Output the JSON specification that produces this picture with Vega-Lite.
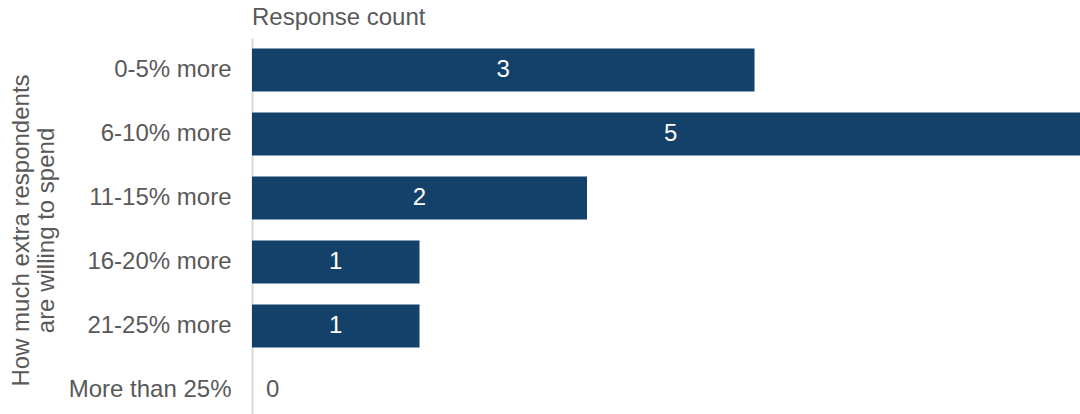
{
  "$schema": "https://vega.github.io/schema/vega-lite/v6.json",
  "width": 828,
  "height": 384,
  "autosize": {"type": "none"},
  "padding": {"left": 252, "top": 38, "right": 0, "bottom": 0},
  "background": "white",
  "config": {"view": {"stroke": null}, "font": "Liberation Sans"},
  "title": {"text": "Response count", "anchor": "start", "frame": "group", "fontSize": 24, "fontWeight": "normal", "color": "#595959", "font": "Liberation Sans", "baseline": "bottom", "offset": -16},
  "data": {"values": [
    {"category": "0-5% more", "count": 3},
    {"category": "6-10% more", "count": 5},
    {"category": "11-15% more", "count": 2},
    {"category": "16-20% more", "count": 1},
    {"category": "21-25% more", "count": 1},
    {"category": "More than 25%", "count": 0}
  ]},
  "transform": [{"calculate": "datum.count / 2", "as": "mid"}],
  "encoding": {
    "y": {
      "field": "category", "type": "nominal", "sort": null,
      "scale": {"paddingInner": 0.33, "paddingOuter": 0.165},
      "axis": {
        "title": ["How much extra respondents", "are willing to spend"],
        "titleFontSize": 24, "titleFontWeight": "normal", "titleColor": "#595959", "titleFont": "Liberation Sans",
        "titlePadding": 10, "titleLineHeight": 25,
        "labelFontSize": 24, "labelColor": "#595959", "labelFont": "Liberation Sans", "labelPadding": 21,
        "ticks": false, "domainColor": "#d9d9d9", "domainWidth": 2, "grid": false
      }
    }
  },
  "layer": [
    {
      "mark": {"type": "bar", "color": "#14416a", "clip": true},
      "encoding": {
        "x": {"field": "count", "type": "quantitative", "scale": {"domain": [0, 4.943], "nice": false, "zero": true}, "axis": null}
      }
    },
    {
      "transform": [{"filter": "datum.count > 0"}],
      "mark": {"type": "text", "color": "white", "fontSize": 24, "align": "center", "baseline": "middle", "font": "Liberation Sans"},
      "encoding": {
        "x": {"field": "mid", "type": "quantitative"},
        "text": {"field": "count", "type": "quantitative"}
      }
    },
    {
      "transform": [{"filter": "datum.count == 0"}],
      "mark": {"type": "text", "color": "#595959", "fontSize": 24, "align": "left", "baseline": "middle", "dx": 14, "font": "Liberation Sans"},
      "encoding": {
        "x": {"field": "count", "type": "quantitative"},
        "text": {"field": "count", "type": "quantitative"}
      }
    }
  ]
}
